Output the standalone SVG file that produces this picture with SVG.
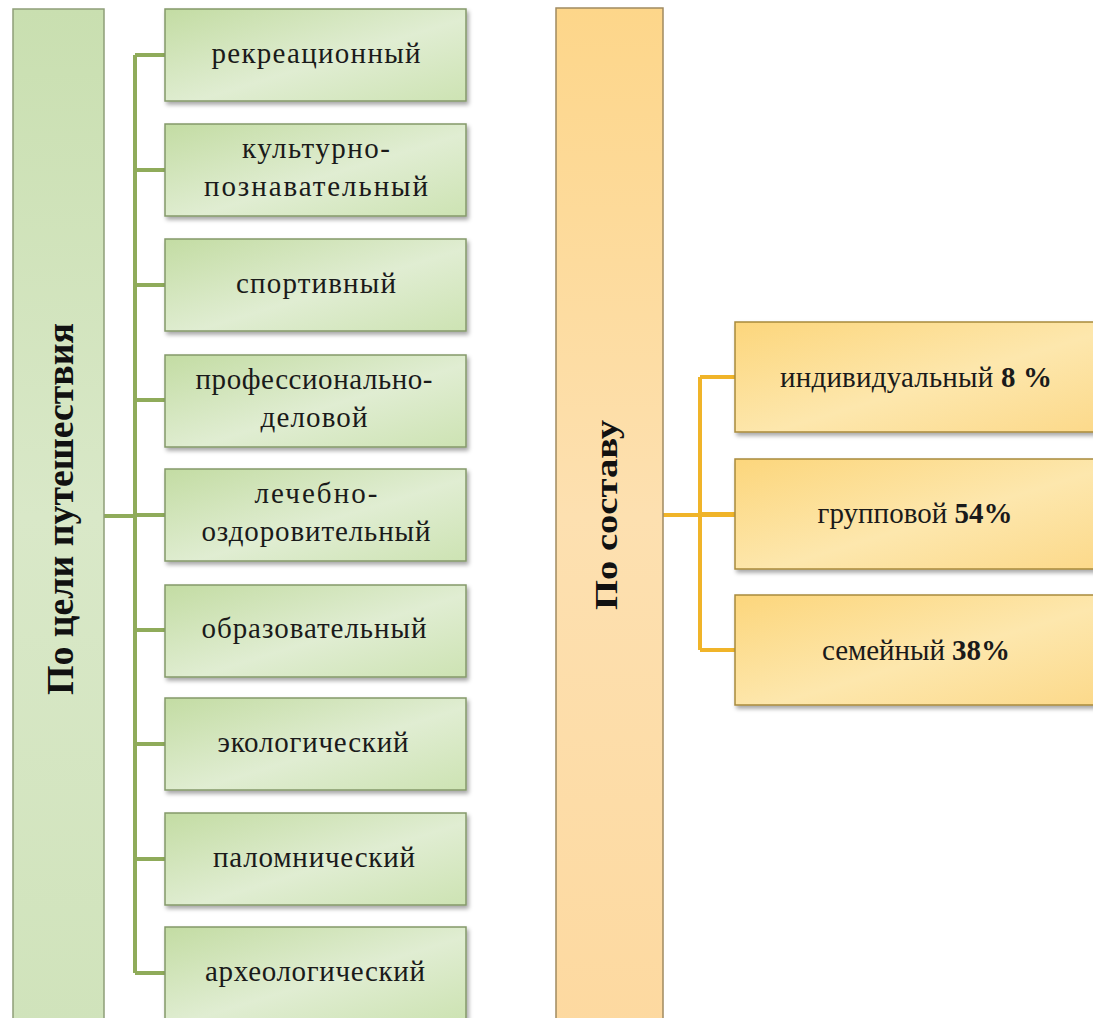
<svg xmlns="http://www.w3.org/2000/svg" width="1093" height="1018" viewBox="0 0 1093 1018">
<defs>
  <linearGradient id="gBox" x1="0" y1="0" x2="1" y2="1">
    <stop offset="0" stop-color="#c3dca3"/>
    <stop offset="0.55" stop-color="#e0edd2"/>
    <stop offset="1" stop-color="#cde3b3"/>
  </linearGradient>
  <linearGradient id="gBar" x1="0" y1="0" x2="0" y2="1">
    <stop offset="0" stop-color="#c9dfb0"/>
    <stop offset="0.5" stop-color="#d9e8c8"/>
    <stop offset="1" stop-color="#d0e3bb"/>
  </linearGradient>
  <linearGradient id="oBox" x1="0" y1="0" x2="1" y2="1">
    <stop offset="0" stop-color="#fcd67c"/>
    <stop offset="0.55" stop-color="#fde7ad"/>
    <stop offset="1" stop-color="#fcd98a"/>
  </linearGradient>
  <linearGradient id="oBar" x1="0" y1="0" x2="0" y2="1">
    <stop offset="0" stop-color="#fdd68a"/>
    <stop offset="0.5" stop-color="#fde0b0"/>
    <stop offset="1" stop-color="#fdd9a0"/>
  </linearGradient>
  <filter id="sh" x="-10%" y="-10%" width="125%" height="130%">
    <feDropShadow dx="2" dy="3" stdDeviation="2" flood-color="#000" flood-opacity="0.35"/>
  </filter>
</defs>
<style>
  .gbox { fill: url(#gBox); stroke: #84996a; stroke-width: 1.5; filter: url(#sh); }
  .obox { fill: url(#oBox); stroke: #a88a3c; stroke-width: 1.5; filter: url(#sh); }
  .gbar { fill: url(#gBar); stroke: #8e9e78; stroke-width: 1.5; }
  .obar { fill: url(#oBar); stroke: #a08a60; stroke-width: 1.5; }
  .lbl { font-family: "Liberation Serif", "DejaVu Serif", serif; font-size: 29px; fill: #1a1a1a; text-anchor: middle; }
  .ttl { font-family: "Liberation Serif", "DejaVu Serif", serif; font-weight: bold; fill: #111; text-anchor: middle; }
  .gline { stroke: #8fab5a; stroke-width: 4; fill: none; }
  .oline { stroke: #f0b429; stroke-width: 4; fill: none; }
  .b { font-weight: bold; }
</style>
<rect width="1093" height="1018" fill="#ffffff"/>

<g id="connectors">
  <path class="gline" d="M104 516 H135 M135 55 V973 M135 55 H165 M135 170 H165 M135 285 H165 M135 400 H165 M135 515 H165 M135 630 H165 M135 744 H165 M135 859 H165 M135 973 H165"/>
  <path class="oline" d="M663 515 H735 M700 377 V650 M700 377 H735 M700 514 H735 M700 650 H735"/>
</g>

<g id="bar-goal">
  <rect class="gbar" x="13" y="9" width="91" height="1015"/>
  <text class="ttl" font-size="38" transform="translate(73,509) rotate(-90)" textLength="372" lengthAdjust="spacingAndGlyphs">По цели путешествия</text>
</g>

<g id="bar-composition">
  <rect class="obar" x="556" y="8" width="107" height="1016"/>
  <text class="ttl" font-size="32" transform="translate(617,515) rotate(-90)" textLength="190" lengthAdjust="spacingAndGlyphs">По составу</text>
</g>

<g id="n1"><rect class="gbox" x="165" y="9" width="301" height="92"/>
  <text class="lbl" x="316" y="63" textLength="209" lengthAdjust="spacing">рекреационный</text></g>
<g id="n2"><rect class="gbox" x="165" y="124" width="301" height="92"/>
  <text class="lbl" x="316" y="158" textLength="148" lengthAdjust="spacing">культурно-</text>
  <text class="lbl" x="316" y="196" textLength="224" lengthAdjust="spacing">познавательный</text></g>
<g id="n3"><rect class="gbox" x="165" y="239" width="301" height="92"/>
  <text class="lbl" x="316" y="293" textLength="160" lengthAdjust="spacing">спортивный</text></g>
<g id="n4"><rect class="gbox" x="165" y="355" width="301" height="92"/>
  <text class="lbl" x="314" y="389" textLength="237" lengthAdjust="spacing">профессионально-</text>
  <text class="lbl" x="314" y="427" textLength="107" lengthAdjust="spacing">деловой</text></g>
<g id="n5"><rect class="gbox" x="165" y="469" width="301" height="92"/>
  <text class="lbl" x="316" y="503" textLength="123" lengthAdjust="spacing">лечебно-</text>
  <text class="lbl" x="316" y="541" textLength="229" lengthAdjust="spacing">оздоровительный</text></g>
<g id="n6"><rect class="gbox" x="165" y="585" width="301" height="92"/>
  <text class="lbl" x="314" y="638" textLength="225" lengthAdjust="spacing">образовательный</text></g>
<g id="n7"><rect class="gbox" x="165" y="698" width="301" height="92"/>
  <text class="lbl" x="313" y="752" textLength="191" lengthAdjust="spacing">экологический</text></g>
<g id="n8"><rect class="gbox" x="165" y="813" width="301" height="92"/>
  <text class="lbl" x="314" y="867" textLength="202" lengthAdjust="spacing">паломнический</text></g>
<g id="n9"><rect class="gbox" x="165" y="927" width="301" height="92"/>
  <text class="lbl" x="315" y="981" textLength="220" lengthAdjust="spacing">археологический</text></g>

<g id="o1"><rect class="obox" x="735" y="322" width="365" height="110"/>
  <text class="lbl" x="916" y="387" textLength="272" lengthAdjust="spacing">индивидуальный <tspan class="b">8 %</tspan></text></g>
<g id="o2"><rect class="obox" x="735" y="459" width="365" height="110"/>
  <text class="lbl" x="915" y="523" textLength="195" lengthAdjust="spacing">групповой <tspan class="b">54%</tspan></text></g>
<g id="o3"><rect class="obox" x="735" y="595" width="365" height="110"/>
  <text class="lbl" x="916" y="660" textLength="188" lengthAdjust="spacing">семейный <tspan class="b">38%</tspan></text></g>
</svg>
